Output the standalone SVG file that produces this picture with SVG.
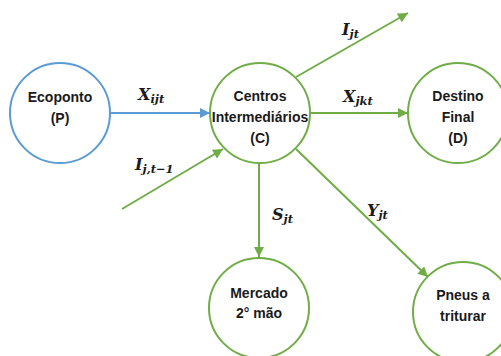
<svg xmlns="http://www.w3.org/2000/svg" width="501" height="356" viewBox="0 0 501 356">
<defs>
<style>
.node{fill:#fff;stroke-width:2}
.b{stroke:#5B9BD5}
.g{stroke:#70AD47}
.lbl{font-family:"Liberation Sans",Arial,sans-serif;font-weight:bold;font-size:14px;fill:#1a1a1a;text-anchor:middle}
.m{font-family:"DejaVu Serif","Liberation Serif",serif;font-weight:bold;font-style:italic;font-size:16px;fill:#1a1a1a}
.s{font-size:11.5px}
.edge{fill:none;stroke-width:2}
</style>
<marker id="ab" viewBox="0 0 10 10" refX="10" refY="5" markerWidth="11" markerHeight="10" markerUnits="userSpaceOnUse" orient="auto"><path d="M0,0 L10,5 L0,10 z" fill="#5B9BD5"/></marker>
<marker id="ag" viewBox="0 0 10 10" refX="10" refY="5" markerWidth="11" markerHeight="10" markerUnits="userSpaceOnUse" orient="auto"><path d="M0,0 L10,5 L0,10 z" fill="#70AD47"/></marker>
</defs>
<rect width="501" height="356" fill="#fff"/>
<g id="connectors">
<line class="edge b" x1="111" y1="113" x2="210" y2="113" marker-end="url(#ab)"/>
<line class="edge g" x1="122" y1="209" x2="223" y2="149" marker-end="url(#ag)"/>
<line class="edge g" x1="296" y1="77" x2="408" y2="13" marker-end="url(#ag)"/>
<line class="edge g" x1="311" y1="113" x2="408" y2="113" marker-end="url(#ag)"/>
<line class="edge g" x1="259" y1="163" x2="259" y2="257" marker-end="url(#ag)"/>
<line class="edge g" x1="296" y1="149" x2="428" y2="277" marker-end="url(#ag)"/>
</g>
<g id="labels">
<text class="m" x="138" y="100">X<tspan class="s" dy="3">ijt</tspan></text>
<text class="m" x="342" y="35">I<tspan class="s" dy="3">jt</tspan></text>
<text class="m" x="343" y="102">X<tspan class="s" dy="3">jkt</tspan></text>
<text class="m" x="135" y="170">I<tspan class="s" dy="3">j,t−1</tspan></text>
<text class="m" x="272" y="220">S<tspan class="s" dy="3">jt</tspan></text>
<text class="m" x="367" y="216">Y<tspan class="s" dy="3">jt</tspan></text>
</g>
<g id="P">
<circle class="node b" cx="60" cy="113" r="50"/>
<text class="lbl" x="60" y="102">Ecoponto</text>
<text class="lbl" x="60" y="123">(P)</text>
</g>
<g id="C">
<circle class="node g" cx="260" cy="113" r="50"/>
<text class="lbl" x="260" y="101">Centros</text>
<text class="lbl" x="260" y="122">Intermediários</text>
<text class="lbl" x="260" y="143">(C)</text>
</g>
<g id="D">
<circle class="node g" cx="458" cy="113" r="50"/>
<text class="lbl" x="458" y="101">Destino</text>
<text class="lbl" x="458" y="122">Final</text>
<text class="lbl" x="458" y="143">(D)</text>
</g>
<g id="M">
<circle class="node g" cx="259" cy="308" r="50"/>
<text class="lbl" x="259" y="298">Mercado</text>
<text class="lbl" x="259" y="318">2° mão</text>
</g>
<g id="T">
<circle class="node g" cx="463" cy="312" r="50"/>
<text class="lbl" x="463" y="300">Pneus a</text>
<text class="lbl" x="463" y="321">triturar</text>
</g>
</svg>
